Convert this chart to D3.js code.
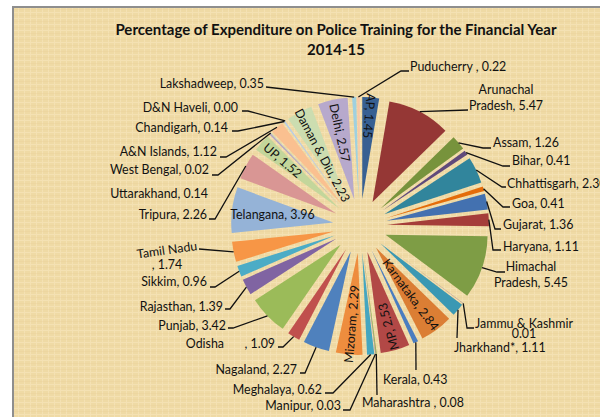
<!DOCTYPE html>
<html><head><meta charset="utf-8">
<script src="https://cdn.jsdelivr.net/npm/d3@7"></script>
<style>
html,body{margin:0;padding:0;background:#fff;}
svg{display:block;font-family:Lato,"Open Sans",sans-serif;}
</style></head>
<body><svg id="c" width="600" height="417"></svg>
<script>
// ---- data ----
const states = ["AP","Arunachal Pradesh","Assam","Bihar","Chhattisgarh","Goa","Gujarat","Haryana",
 "Himachal Pradesh","Jammu & Kashmir","Jharkhand*","Karnataka","Kerala","MP","Maharashtra ","Manipur",
 "Meghalaya","Mizoram","Nagaland","Odisha","Punjab","Rajasthan","Sikkim","Tamil Nadu","Telangana",
 "Tripura","UP","Uttarakhand","West Bengal","A&N Islands","Chandigarh","D&N Haveli","Daman & Diu",
 "Delhi","Lakshadweep","Puducherry "];
const values = [1.45,5.47,1.26,0.41,2.30,0.41,1.36,1.11,5.45,0.01,1.11,2.84,0.43,2.53,0.08,0.03,
 0.62,2.29,2.27,1.09,3.42,1.39,0.96,1.74,3.96,2.26,1.52,0.14,0.02,1.12,0.14,0.00,2.23,2.57,0.35,0.22];
const colors = ["#376092","#953735","#77933C","#604A7B","#31859C","#E46C0A",
 "#4371B0","#A53D3A","#7E9D45","#6F5592","#3A98B3","#DB7E34",
 "#4A7DC0","#B24846","#8CAE50","#7660A0","#45A6C0","#EE8D3E",
 "#4F81BD","#C0504D","#9BBB59","#8064A2","#4BACC6","#F79646",
 "#95B3D7","#D99694","#C3D69B","#B3A2C7","#93CDDD","#FAC090",
 "#B9CDE5","#E6B9B8","#CCDDB0","#B7A9CC","#9FD0E0","#F8C8A8"];
const title = ["Percentage of Expenditure on Police Training for the Financial Year","2014-15"];

// ---- label layout (positions only) ----
const L = {
 0:{t:"in",rf:0.82},
 1:{t:"out",x:506,y:[90,106],a:"middle",lines:["Arunachal","Pradesh, {v}"],pts:[[468,110]]},
 2:{t:"out",x:493,y:[143],a:"start",pts:[[483,148],[491,148]]},
 3:{t:"out",x:512,y:[161],a:"start",pts:[[503,166],[510,166]]},
 4:{t:"out",x:507,y:[184],a:"start",pts:[[502,187],[506,187]]},
 5:{t:"out",x:512,y:[204],a:"start",pts:[[503,207],[510,207]]},
 6:{t:"out",x:503,y:[225],a:"start",pts:[[495,229],[501,229]]},
 7:{t:"out",x:503,y:[247],a:"start",pts:[[493,250],[501,250]]},
 8:{t:"out",x:531,y:[267,283],a:"middle",lines:["Himachal","Pradesh, {v}"],pts:[[497,272],[505,272]]},
 9:{t:"out",x:524,y:[324,334],a:"middle",lines:["Jammu & Kashmir","{v}"],pts:[[467,328],[474,328]]},
 10:{t:"out",x:454,y:[348],a:"start",pts:[[457,338]]},
 11:{t:"in",rf:0.57},
 12:{t:"out",x:383,y:[380],a:"start",pts:[[416,370]]},
 13:{t:"in",rf:0.76},
 14:{t:"out",x:362,y:[403],a:"start",pts:[[377,395]]},
 15:{t:"out",x:341,y:[406],a:"end",pts:[[350,410],[343,410]]},
 16:{t:"out",x:322,y:[390],a:"end",pts:[[333,393],[325,393]]},
 17:{t:"in",rf:0.70},
 18:{t:"out",x:297,y:[370],a:"end",pts:[[305,373],[300,373]]},
 19:{t:"out",x:275,y:[344],a:"end",split:224,pts:[[283,347],[278,347]]},
 20:{t:"out",x:226,y:[326],a:"end",pts:[[233,328],[228,328]]},
 21:{t:"out",x:223,y:[307],a:"end",pts:[[230,309],[225,309]]},
 22:{t:"out",x:207,y:[282],a:"end",pts:[[215,287],[210,287]]},
 23:{t:"out",x:167,y:[250,265],a:"middle",lines:["Tamil Nadu",", {v}"],rot0:-8,pts:[[199,249]]},
 24:{t:"in",rf:0.60,flat:true},
 25:{t:"out",x:207,y:[215],a:"end",pts:[[215,219],[209,219]]},
 26:{t:"in",rf:0.73},
 27:{t:"out",x:208,y:[194],a:"end",pts:null},
 28:{t:"out",x:209,y:[170],a:"end",pts:[[218,175],[212,175]]},
 29:{t:"out",x:217,y:[152],a:"end",pts:[[226,157],[220,157]]},
 30:{t:"out",x:228,y:[128],a:"end",pts:[[238,131],[232,131]]},
 31:{t:"out",x:238,y:[108],a:"end",pts:[[248,111],[242,111]]},
 32:{t:"in",rf:0.52},
 33:{t:"in",rf:0.67},
 34:{t:"out",x:264,y:[84],a:"end",pts:[[266,87]]},
 35:{t:"out",x:410,y:[67],a:"start",pts:[[401,71],[409,71]]}
};

const svg = d3.select("#c");
const defs = svg.append("defs");
const pat = defs.append("pattern").attr("id","linen").attr("width",6).attr("height",6).attr("patternUnits","userSpaceOnUse");
pat.append("rect").attr("width",6).attr("height",6).attr("fill","#EFDAA5");
pat.append("path").attr("d","M0,0.5H6M0.5,0V6").attr("stroke","#F6E6BC").attr("stroke-width",1).attr("opacity",0.6);
pat.append("path").attr("d","M0,3.5H6").attr("stroke","#E6CD92").attr("stroke-width",0.6).attr("opacity",0.5);

svg.append("rect").attr("x",13).attr("y",7).attr("width",600).attr("height",420)
  .attr("fill","url(#linen)").attr("stroke","#8E8E8E").attr("stroke-width",2);

const cx = 360, cy = 226, R = 102, OFF = 27;
const data = states.map((s,i)=>({name:s,value:values[i],color:colors[i],i}));
const pie = d3.pie().sort(null).value(d=>d.value).startAngle(0).endAngle(2*Math.PI);
const arcs = pie(data);
const arc = d3.arc().innerRadius(0).outerRadius(R);
const dir = a => [Math.sin(a), -Math.cos(a)];

const g = svg.append("g").attr("transform",`translate(${cx},${cy})`);
g.selectAll("path.slice").data(arcs).join("path").attr("class","slice")
  .attr("transform",d=>{const m=(d.startAngle+d.endAngle)/2,[ux,uy]=dir(m);return `translate(${ux*OFF},${uy*OFF})`;})
  .attr("d",arc).attr("fill",d=>d.data.color);

// title
svg.append("g").selectAll("text").data(title).join("text")
  .attr("x",336).attr("y",(d,i)=>30+i*20).attr("dy","0.35em").attr("text-anchor","middle")
  .attr("font-weight","bold").attr("font-size",15).attr("fill","#111").text(d=>d);

const fmt = v => v.toFixed(2);
const lab = svg.append("g").attr("font-size",12.4).attr("fill","#111");
const lines = svg.append("g").attr("fill","none").attr("stroke","#111").attr("stroke-width",1.3);

arcs.forEach(d=>{
  const i = d.data.i, cfg = L[i]; if(!cfg) return;
  const m = (d.startAngle+d.endAngle)/2, [ux,uy] = dir(m);
  const v = fmt(d.data.value);
  if(cfg.t==="in"){
    const dist = OFF + cfg.rf*R;
    const x = cx+ux*dist, y = cy+uy*dist;
    let rot = 0;
    if(!cfg.flat){
      rot = Math.atan2(-uy,-ux)*180/Math.PI; // inward direction
      if(rot>110) rot-=180; if(rot<-110) rot+=180;
    }
    lab.append("text").attr("transform",`translate(${x},${y}) rotate(${rot})`)
      .attr("text-anchor","middle").attr("dy","0.35em").text(`${d.data.name.trim()}, ${v}`);
  } else {
    const txt = cfg.lines ? cfg.lines.map(s=>s.replace("{v}",v)) : [`${d.data.name}, ${v}`];
    if(cfg.split!==undefined){
      lab.append("text").attr("x",cfg.split).attr("y",cfg.y[0]).attr("dy","0.35em").attr("text-anchor","end").text(d.data.name);
      lab.append("text").attr("x",cfg.x).attr("y",cfg.y[0]).attr("dy","0.35em").attr("text-anchor","end").text(`, ${v}`);
    } else {
      txt.forEach((s,k)=>{
        const t = lab.append("text").attr("x",cfg.x).attr("y",cfg.y[k]).attr("dy","0.35em").attr("text-anchor",cfg.a).text(s);
        if(k===0 && cfg.rot0) t.attr("transform",`rotate(${cfg.rot0},${cfg.x},${cfg.y[k]})`);
      });
    }
    if(cfg.pts){
      const p0 = [cx+ux*(OFF+R), cy+uy*(OFF+R)];
      lines.append("path").attr("d",d3.line()([p0,...cfg.pts]));
    }
  }
});
</script></body></html>
